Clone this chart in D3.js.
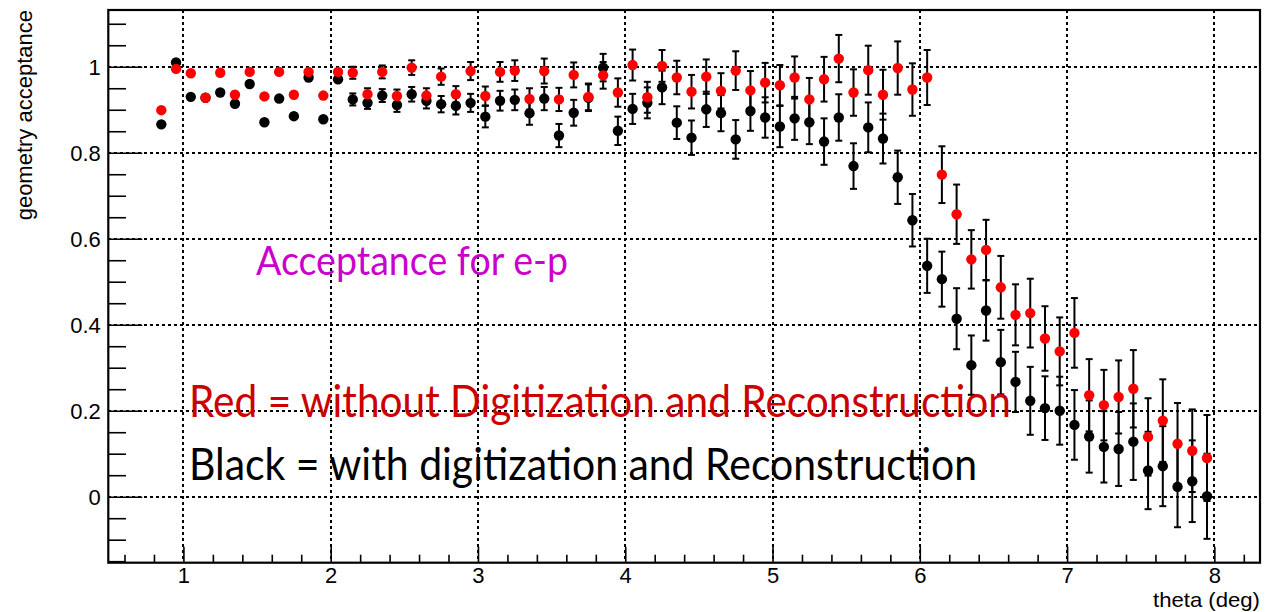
<!DOCTYPE html>
<html>
<head>
<meta charset="utf-8">
<script src="https://cdn.jsdelivr.net/npm/d3@7"></script>
<style>
  html, body { margin: 0; padding: 0; background: #fff; }
  svg { display: block; }
</style>
</head>
<body>
<div id="chart"></div>
<script>
// bin centres (deg)
const theta = [
  0.85, 0.95, 1.05, 1.15, 1.25, 1.35, 1.45, 1.55, 1.65, 1.75, 1.85, 1.95,
  2.05, 2.15, 2.25, 2.35, 2.45, 2.55, 2.65, 2.75, 2.85, 2.95,
  3.05, 3.15, 3.25, 3.35, 3.45, 3.55, 3.65, 3.75, 3.85, 3.95,
  4.05, 4.15, 4.25, 4.35, 4.45, 4.55, 4.65, 4.75, 4.85, 4.95,
  5.05, 5.15, 5.25, 5.35, 5.45, 5.55, 5.65, 5.75, 5.85, 5.95,
  6.05, 6.15, 6.25, 6.35, 6.45, 6.55, 6.65, 6.75, 6.85, 6.95,
  7.05, 7.15, 7.25, 7.35, 7.45, 7.55, 7.65, 7.75, 7.85, 7.95
];

// without digitization / reconstruction (red)
const accRed = [
  0.899, 0.995, 0.985, 0.928, 0.986, 0.935, 0.988, 0.931, 0.988, 0.935, 0.988, 0.933,
  0.988, 0.986, 0.936, 0.988, 0.932, 0.998, 0.933, 0.977, 0.936, 0.990,
  0.932, 0.988, 0.991, 0.925, 0.990, 0.924, 0.981, 0.930, 0.980, 0.940,
  1.004, 0.929, 1.002, 0.975, 0.942, 0.977, 0.944, 0.991, 0.945, 0.963,
  0.957, 0.975, 0.924, 0.971, 1.019, 0.940, 0.992, 0.935, 0.997, 0.947,
  0.975, 0.749, 0.657, 0.552, 0.574, 0.487, 0.423, 0.427, 0.368, 0.338,
  0.381, 0.236, 0.213, 0.232, 0.251, 0.139, 0.177, 0.123, 0.107, 0.090
];
const errRed = [
  0, 0, 0, 0, 0, 0, 0, 0, 0, 0, 0, 0,
  0.010, 0.014, 0.014, 0.015, 0.015, 0.017, 0.017, 0.019, 0.019, 0.021,
  0.022, 0.023, 0.024, 0.025, 0.029, 0.027, 0.029, 0.031, 0.031, 0.033,
  0.036, 0.036, 0.037, 0.039, 0.039, 0.040, 0.041, 0.045, 0.045, 0.046,
  0.047, 0.049, 0.050, 0.052, 0.055, 0.054, 0.057, 0.058, 0.062, 0.061,
  0.064, 0.066, 0.069, 0.068, 0.070, 0.073, 0.071, 0.080, 0.075, 0.079,
  0.081, 0.084, 0.082, 0.085, 0.090, 0.090, 0.096, 0.095, 0.096, 0.100
];

// with digitization and reconstruction (black)
const accBlack = [
  0.866, 1.010, 0.930, 0.928, 0.940, 0.914, 0.960, 0.871, 0.926, 0.885, 0.975, 0.878,
  0.971, 0.924, 0.916, 0.933, 0.911, 0.936, 0.921, 0.913, 0.909, 0.916,
  0.884, 0.921, 0.923, 0.892, 0.926, 0.840, 0.893, 0.928, 0.998, 0.851,
  0.902, 0.916, 0.952, 0.870, 0.835, 0.901, 0.892, 0.831, 0.897, 0.882,
  0.861, 0.880, 0.871, 0.826, 0.882, 0.769, 0.859, 0.833, 0.743, 0.643,
  0.537, 0.506, 0.414, 0.306, 0.433, 0.313, 0.267, 0.223, 0.206, 0.200,
  0.167, 0.140, 0.116, 0.111, 0.128, 0.061, 0.071, 0.023, 0.036, 0.001
];
const errBlack = [
  0, 0, 0, 0, 0, 0, 0, 0, 0, 0, 0, 0,
  0.010, 0.014, 0.014, 0.015, 0.016, 0.017, 0.018, 0.019, 0.020, 0.021,
  0.025, 0.023, 0.024, 0.027, 0.027, 0.027, 0.030, 0.031, 0.032, 0.033,
  0.035, 0.036, 0.039, 0.038, 0.040, 0.041, 0.042, 0.045, 0.046, 0.047,
  0.048, 0.050, 0.051, 0.054, 0.054, 0.053, 0.058, 0.058, 0.062, 0.061,
  0.063, 0.064, 0.071, 0.069, 0.070, 0.075, 0.070, 0.079, 0.074, 0.079,
  0.081, 0.084, 0.083, 0.086, 0.089, 0.090, 0.093, 0.094, 0.095, 0.099
];

const xMajor = [1, 2, 3, 4, 5, 6, 7, 8];
const yMajor = [0, 0.2, 0.4, 0.6, 0.8, 1];

const width = 1274, height = 612;
const frame = { left: 108.3, right: 1260, top: 10, bottom: 562.7 };

const x = d3.scaleLinear().domain([0.49, 8.31]).range([frame.left, frame.right]);
const y = d3.scaleLinear().domain([-0.1535, 1.132]).range([frame.bottom, frame.top]);

const svg = d3.select('#chart').append('svg')
  .attr('width', width)
  .attr('height', height);

// grid (dotted)
const grid = svg.append('g')
  .attr('stroke', '#000')
  .attr('stroke-width', 2)
  .attr('stroke-dasharray', '2.5,3.5')
  .attr('shape-rendering', 'crispEdges');
grid.selectAll('line.gx').data(xMajor).enter().append('line')
  .attr('x1', d => Math.round(x(d))).attr('x2', d => Math.round(x(d)))
  .attr('y1', frame.top).attr('y2', frame.bottom);
grid.selectAll('line.gy').data(yMajor).enter().append('line')
  .attr('x1', frame.left).attr('x2', frame.right)
  .attr('y1', d => Math.round(y(d))).attr('y2', d => Math.round(y(d)));

// y axis: long ROOT-style ticks pointing into the frame
const yAxis = d3.axisRight(y)
  .tickValues(yMajor)
  .tickSize(34)
  .tickFormat(d3.format('~g'));
const yMinor = d3.axisRight(y)
  .tickValues(d3.range(-0.15, 1.11, 0.05).filter(v => !yMajor.some(m => Math.abs(m - v) < 1e-6)))
  .tickSize(17.7)
  .tickFormat('');

svg.append('g').attr('transform', `translate(${frame.left},0)`).call(yMinor)
  .call(g => g.select('.domain').remove())
  .call(g => g.selectAll('line').attr('stroke', '#000').attr('stroke-width', 1.6));
svg.append('g').attr('transform', `translate(${frame.left},0)`).call(yAxis)
  .call(g => g.select('.domain').remove())
  .call(g => g.selectAll('line').attr('stroke', '#000').attr('stroke-width', 1.6))
  .call(g => g.selectAll('text')
    .attr('x', -7.5)
    .attr('dy', '0.35em')
    .attr('text-anchor', 'end')
    .attr('fill', '#000')
    .style('font-family', '"Liberation Sans", Arial, sans-serif')
    .style('font-size', '22px'));

// x axis
const xAxis = d3.axisTop(x)
  .tickValues(xMajor)
  .tickSize(16)
  .tickFormat(d3.format('d'));
const xMinor = d3.axisTop(x)
  .tickValues(d3.range(0.6, 8.3, 0.2).filter(v => !xMajor.some(m => Math.abs(m - v) < 1e-6)))
  .tickSize(8)
  .tickFormat('');

svg.append('g').attr('transform', `translate(0,${frame.bottom})`).call(xMinor)
  .call(g => g.select('.domain').remove())
  .call(g => g.selectAll('line').attr('stroke', '#000').attr('stroke-width', 1.6));
svg.append('g').attr('transform', `translate(0,${frame.bottom})`).call(xAxis)
  .call(g => g.select('.domain').remove())
  .call(g => g.selectAll('line').attr('stroke', '#000').attr('stroke-width', 1.6))
  .call(g => g.selectAll('text')
    .attr('y', 20.5)
    .attr('dy', 0)
    .attr('fill', '#000')
    .style('font-family', '"Liberation Sans", Arial, sans-serif')
    .style('font-size', '22px'));

// frame
svg.append('rect')
  .attr('x', frame.left).attr('y', frame.top)
  .attr('width', frame.right - frame.left)
  .attr('height', frame.bottom - frame.top)
  .attr('fill', 'none')
  .attr('stroke', '#000')
  .attr('stroke-width', 2.2);

// axis titles
svg.append('text')
  .attr('transform', `translate(32,${frame.top}) rotate(-90)`)
  .attr('text-anchor', 'end')
  .style('font-family', '"Liberation Sans", Arial, sans-serif')
  .style('font-size', '22px')
  .text('geometry acceptance');

svg.append('text')
  .attr('x', frame.right).attr('y', 606.8)
  .attr('text-anchor', 'end')
  .attr('textLength', 107).attr('lengthAdjust', 'spacingAndGlyphs')
  .style('font-family', '"Liberation Sans", Arial, sans-serif')
  .style('font-size', '21px')
  .text('theta (deg)');

// data series with error bars
const R = 5.2;
function drawSeries(vals, errs, colour) {
  const pts = theta.map((t, i) => ({ t, v: vals[i], e: errs[i] }));
  const withBars = pts.filter(d => y(d.v) - y(d.v + d.e) > R);
  const g = svg.append('g');
  const bars = g.append('g').attr('stroke', '#000').attr('stroke-width', 2);
  bars.selectAll('line.bar').data(withBars).enter().append('line')
    .attr('x1', d => x(d.t)).attr('x2', d => x(d.t))
    .attr('y1', d => y(d.v - d.e)).attr('y2', d => y(d.v + d.e));
  ['lo', 'hi'].forEach(side => {
    bars.selectAll('line.cap' + side).data(withBars).enter().append('line')
      .attr('x1', d => x(d.t) - 3.5).attr('x2', d => x(d.t) + 3.5)
      .attr('y1', d => y(side === 'lo' ? d.v - d.e : d.v + d.e))
      .attr('y2', d => y(side === 'lo' ? d.v - d.e : d.v + d.e));
  });
  g.selectAll('circle').data(pts).enter().append('circle')
    .attr('cx', d => x(d.t))
    .attr('cy', d => y(d.v))
    .attr('r', R)
    .attr('fill', colour);
}
drawSeries(accBlack, errBlack, '#000000');
drawSeries(accRed, errRed, '#ff0000');

// annotations
const noteFont = 'Lato, "Open Sans", sans-serif';
svg.append('text')
  .attr('x', 256).attr('y', 275)
  .attr('textLength', 312).attr('lengthAdjust', 'spacingAndGlyphs')
  .attr('fill', '#cc00cc')
  .style('font-family', noteFont).style('font-size', '40px')
  .text('Acceptance for e-p');

svg.append('text')
  .attr('x', 189).attr('y', 416.5)
  .attr('textLength', 822).attr('lengthAdjust', 'spacingAndGlyphs')
  .attr('fill', '#cc0000')
  .style('font-family', noteFont).style('font-size', '45px')
  .text('Red = without Digitization and Reconstruction');

svg.append('text')
  .attr('x', 189).attr('y', 480)
  .attr('textLength', 788).attr('lengthAdjust', 'spacingAndGlyphs')
  .attr('fill', '#000')
  .style('font-family', noteFont).style('font-size', '45px')
  .text('Black = with digitization and Reconstruction');
</script>
</body>
</html>
